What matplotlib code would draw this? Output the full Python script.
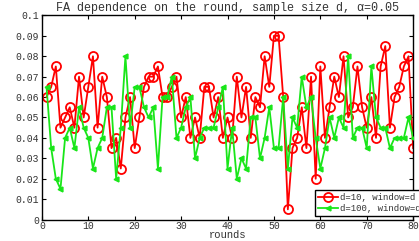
import matplotlib
matplotlib.use("Agg")
import matplotlib.pyplot as plt
import numpy as np

rounds = list(range(1, 81))
fa_d10 = [0.060, 0.065, 0.075, 0.045, 0.050, 0.055, 0.045, 0.070, 0.050, 0.065,
          0.080, 0.045, 0.070, 0.060, 0.035, 0.040, 0.025, 0.050, 0.060, 0.035,
          0.050, 0.065, 0.070, 0.070, 0.075, 0.060, 0.060, 0.065, 0.070, 0.050,
          0.060, 0.040, 0.050, 0.040, 0.065, 0.065, 0.050, 0.060, 0.040, 0.050,
          0.040, 0.070, 0.050, 0.065, 0.040, 0.060, 0.055, 0.080, 0.065, 0.090,
          0.090, 0.060, 0.005, 0.035, 0.040, 0.055, 0.035, 0.070, 0.020, 0.075,
          0.040, 0.055, 0.070, 0.060, 0.080, 0.050, 0.055, 0.075, 0.055, 0.045,
          0.060, 0.040, 0.075, 0.085, 0.045, 0.060, 0.065, 0.075, 0.080, 0.035]
fa_d100 = [0.065, 0.035, 0.020, 0.015, 0.040, 0.045, 0.035, 0.055, 0.045, 0.040,
           0.025, 0.035, 0.040, 0.055, 0.055, 0.020, 0.045, 0.080, 0.045, 0.065,
           0.065, 0.055, 0.050, 0.055, 0.025, 0.060, 0.060, 0.070, 0.040, 0.045,
           0.055, 0.060, 0.030, 0.040, 0.045, 0.045, 0.045, 0.055, 0.065, 0.025,
           0.045, 0.020, 0.030, 0.025, 0.050, 0.050, 0.030, 0.040, 0.055, 0.035,
           0.035, 0.060, 0.025, 0.050, 0.045, 0.070, 0.055, 0.060, 0.040, 0.025,
           0.035, 0.050, 0.040, 0.050, 0.045, 0.080, 0.040, 0.045, 0.045, 0.035,
           0.075, 0.050, 0.045, 0.045, 0.035, 0.040, 0.040, 0.040, 0.050, 0.040]
labels = ["d=10, window=d", "d=100, window=d"]
title = "FA dependence on the round, sample size d, \u03b1=0.05"
xticks = [0, 10, 20, 30, 40, 50, 60, 70, 80]
yticks = [0, 0.01, 0.02, 0.03, 0.04, 0.05, 0.06, 0.07, 0.08, 0.09, 0.1]
ytick_labels = ["0", "0.01", "0.02", "0.03", "0.04", "0.05", "0.06", "0.07", "0.08", "0.09", "0.1"]

plt.rcParams['font.family'] = ['Liberation Mono', 'DejaVu Sans Mono']
tc = '#333333'

fig = plt.figure(figsize=(4.19, 2.41), dpi=100)
ax = fig.add_axes([0.100, 0.089, 0.886, 0.847])

ax.plot(rounds, fa_d10, color='#ff0000', lw=1.3, marker='o', ms=6.5,
        mfc='none', mec='#ff0000', mew=1.3, label=labels[0], zorder=2)
ax.plot(rounds, fa_d100, color='#19e619', lw=1.3, marker='<', ms=3.5,
        mfc='#19e619', mec='#19e619', label=labels[1], zorder=3)

ax.set_xlim(0, 80)
ax.set_ylim(0, 0.1)
ax.set_xticks(xticks)
ax.set_xticklabels([str(t) for t in xticks])
ax.set_yticks(yticks)
ax.set_yticklabels(ytick_labels)
ax.tick_params(direction='in', top=True, right=True, length=3, width=0.8,
               labelsize=7, labelcolor=tc, pad=2)
ax.tick_params(axis='x', pad=1.2)
for s in ax.spines.values():
    s.set_linewidth(1.0)
    s.set_color('black')

ax.set_title(title, fontsize=8.5, color=tc, pad=3)
ax.set_xlabel("rounds", fontsize=7.6, color=tc, labelpad=-0.6)

leg = ax.legend(loc='lower left', bbox_to_anchor=(0.736, 0.017), fontsize=6.5,
                frameon=True, fancybox=False, edgecolor='black', framealpha=1,
                borderpad=0.3, handlelength=2.2, handletextpad=0.2, labelspacing=0.3,
                borderaxespad=0)
leg.get_frame().set_linewidth(1.0)
for t in leg.get_texts():
    t.set_color(tc)

fig.savefig("out.png", dpi=100)
